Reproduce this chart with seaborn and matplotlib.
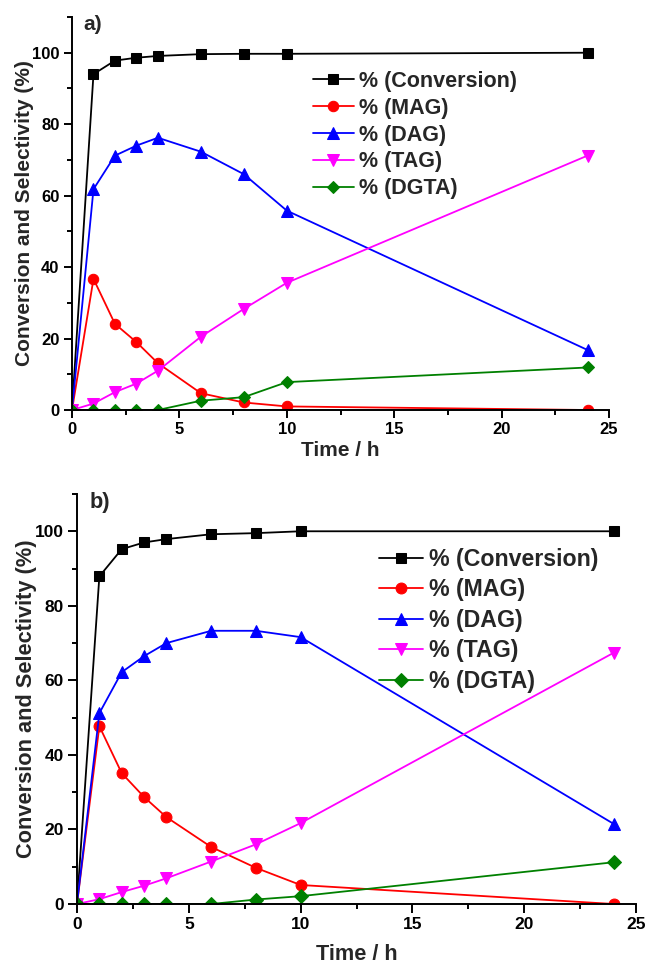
import matplotlib
matplotlib.use("Agg")
import matplotlib.pyplot as plt
from matplotlib.ticker import MultipleLocator
import seaborn as sns

# ---- data ----
time_h = [0, 1, 2, 3, 4, 6, 8, 10, 24]

a_conversion = [0, 94.0, 97.8, 98.6, 99.1, 99.6, 99.7, 99.7, 100.0]
a_mag = [0, 36.7, 24.1, 19.0, 13.1, 4.7, 2.1, 1.0, 0.0]
a_dag = [0, 61.8, 71.2, 74.0, 76.2, 72.3, 66.0, 55.8, 16.8]
a_tag = [0, 1.8, 5.0, 7.4, 11.0, 20.5, 28.3, 35.6, 71.2]
a_dgta = [0, 0, 0, 0, 0, 2.6, 3.6, 7.8, 11.9]

b_conversion = [0, 87.9, 95.2, 97.0, 97.9, 99.2, 99.5, 100.0, 100.0]
b_mag = [0, 47.7, 35.1, 28.7, 23.3, 15.3, 9.7, 5.1, 0.0]
b_dag = [0, 51.2, 62.2, 66.5, 70.0, 73.3, 73.3, 71.6, 21.5]
b_tag = [0, 1.3, 3.2, 4.9, 6.9, 11.4, 16.0, 21.7, 67.4]
b_dgta = [0, 0, 0, 0, 0, 0, 1.2, 2.1, 11.2]

series_labels = ["% (Conversion)", "% (MAG)", "% (DAG)", "% (TAG)", "% (DGTA)"]
series_colors = ["#000000", "#FF0000", "#0000FF", "#FF00FF", "#008000"]
series_markers = ["s", "o", "^", "v", "D"]
marker_sizes = [6.5, 7.5, 8, 8, 6.5]

panel_names = ["a)", "b)"]
x_label = "Time / h"
y_label = "Conversion and Selectivity (%)"

sns.set_theme(style="ticks")
plt.rcParams["font.family"] = ["Liberation Sans", "DejaVu Sans"]
plt.rcParams["font.weight"] = "bold"
plt.rcParams["axes.labelweight"] = "bold"

W, H = 647, 966
fig = plt.figure(figsize=(W / 100, H / 100), dpi=100)

def px_axes(l, r, b, t):
    return [l / W, 1 - b / H, (r - l) / W, (b - t) / H]

# axes rectangles in pixels (left, right, bottom, top)
ax_a = fig.add_axes(px_axes(72, 609, 410, 17))
ax_b = fig.add_axes(px_axes(77, 636, 904, 494))

panels = [
    (ax_a, [a_conversion, a_mag, a_dag, a_tag, a_dgta], 1.0, (313, 71), 15.5, 0.27,
     -0.0708, -0.078),
    (ax_b, [b_conversion, b_mag, b_dag, b_tag, b_dgta], 1.045, (379, 548), 16.7, 0.32,
     -0.0716, -0.0976),
]

for (ax, data, s, leg_pos, leg_fs, leg_sp, ylx, xly), pname in zip(panels, panel_names):
    for vals, lab, col, mk, ms in zip(data, series_labels, series_colors,
                                      series_markers, marker_sizes):
        sns.lineplot(x=time_h, y=vals, ax=ax, color=col, marker=mk,
                     markersize=ms * s, markeredgecolor=col,
                     markerfacecolor=col, linewidth=1.3, label=lab)
    ax.set_xlim(0, 25)
    ax.set_ylim(0, 110)
    ax.xaxis.set_major_locator(MultipleLocator(5))
    ax.xaxis.set_minor_locator(MultipleLocator(2.5))
    ax.set_yticks([0, 20, 40, 60, 80, 100])
    ax.yaxis.set_minor_locator(MultipleLocator(10))
    for sp in ["top", "right"]:
        ax.spines[sp].set_visible(False)
    for sp in ["left", "bottom"]:
        ax.spines[sp].set_linewidth(1.4)
        ax.spines[sp].set_color("black")
    ax.tick_params(which="major", direction="out", length=6 * s, width=1.4,
                   colors="black", labelsize=12 * s, pad=3 * s)
    ax.tick_params(which="minor", direction="out", length=3.5 * s, width=1.4,
                   colors="black")
    for t in ax.get_xticklabels() + ax.get_yticklabels():
        t.set_fontweight("bold")
    ax.set_xlabel(x_label, fontsize=15 * s, fontweight="bold")
    ax.set_ylabel(y_label, fontsize=15 * s, fontweight="bold")
    ax.yaxis.set_label_coords(ylx, 0.5)
    ax.xaxis.set_label_coords(0.5, xly)
    ax.text(0.022, 1.005, pname, transform=ax.transAxes, ha="left", va="top",
            fontsize=15 * s, fontweight="bold")
    leg = ax.legend(loc="upper left",
                    bbox_to_anchor=(leg_pos[0] / W, 1 - leg_pos[1] / H),
                    bbox_transform=fig.transFigure, frameon=False,
                    fontsize=leg_fs, handlelength=1.9, handletextpad=0.25,
                    labelspacing=leg_sp, borderpad=0, borderaxespad=0)
    for t in leg.get_texts():
        t.set_fontweight("bold")
    ax.set_facecolor("white")

fig.savefig("out.png", dpi=100, facecolor="white")
